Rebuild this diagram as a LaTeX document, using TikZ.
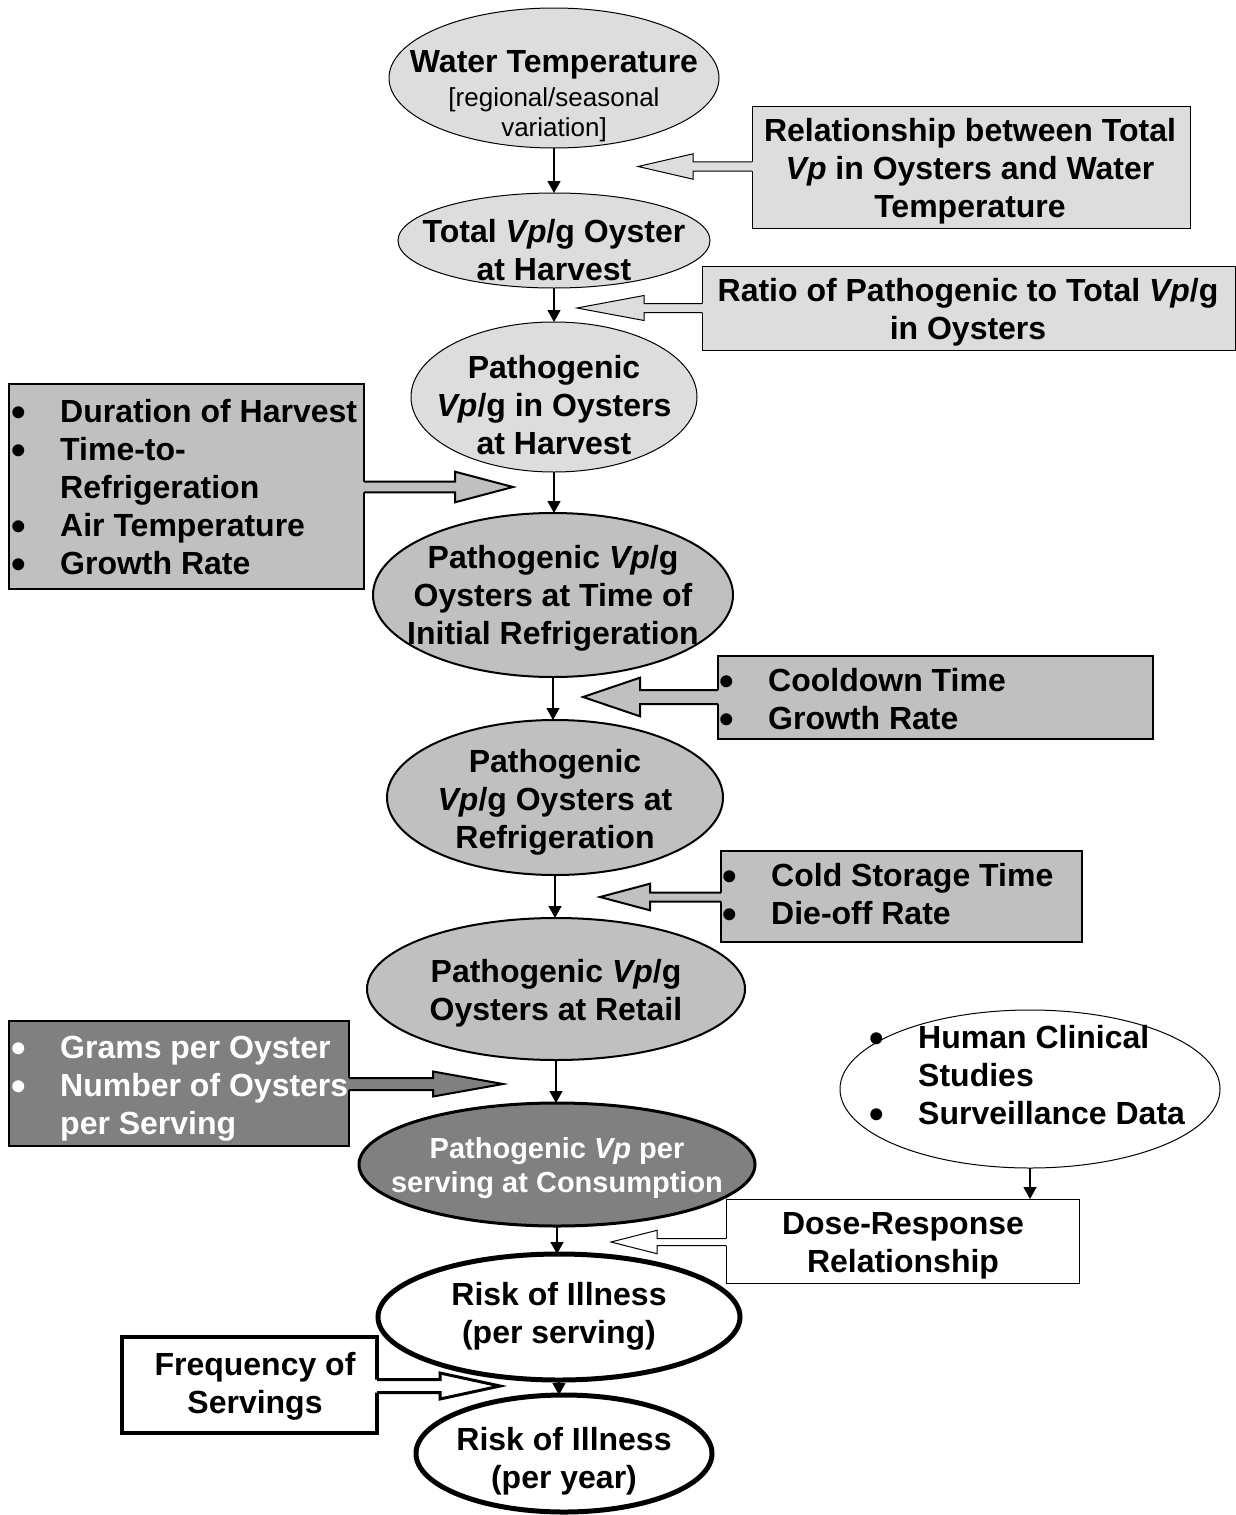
\documentclass[tikz,border=0pt]{standalone}
\usepackage{fontspec}
\usepackage{graphicx}
\setmainfont{Liberation Sans}
\usetikzlibrary{shapes.geometric,arrows.meta,calc}
\definecolor{lightg}{RGB}{221,221,221}
\definecolor{midg}{RGB}{192,192,192}
\definecolor{darkg}{RGB}{128,128,128}
\newcommand\bulit{\makebox[49pt][l]{\raisebox{-3.5pt}{\scalebox{1.3}{\textbullet}}}}
% #1 style, #2 base on box side, #3 tip, #4 head length (signed), #5 shaft half width, #6 head half width
\newcommand\blockarrow[6]{%
  \path[#1,draw=none] let \p1=($(#2)!-3pt!(#3)$), \p2=(#3) in
    (\x1,\y2+#5) -- (\x2+#4,\y2+#5) -- (\x2+#4,\y2+#6) -- (\x2,\y2)
    -- (\x2+#4,\y2-#6) -- (\x2+#4,\y2-#5) -- (\x1,\y2-#5) -- cycle;
  \path[#1,fill=none] let \p1=(#2), \p2=(#3) in
    (\x1,\y2+#5) -- (\x2+#4,\y2+#5) -- (\x2+#4,\y2+#6) -- (\x2,\y2)
    -- (\x2+#4,\y2-#6) -- (\x2+#4,\y2-#5) -- (\x1,\y2-#5);
}
\begin{document}
\begin{tikzpicture}[x=1pt,y=-1pt,
  txt/.style={font=\fontsize{32}{38}\selectfont\bfseries, align=center, inner sep=0pt},
  ltxt/.style={font=\fontsize{32}{38}\selectfont\bfseries, align=left, inner sep=0pt, anchor=west},
  ell/.style={ellipse, inner sep=0pt, outer sep=0pt, draw=black},
  boxr/.style={rectangle, inner sep=0pt, outer sep=0pt, draw=black},
  flow/.style={-{Triangle[width=13pt,length=12pt]}, line width=1.3pt}]
\useasboundingbox[fill=white] (0,0) rectangle (1236,1515);

% side boxes
\node[boxr, fill=lightg, line width=1pt, minimum width=438pt, minimum height=122pt] (A) at (971,167) {};
\node[boxr, fill=lightg, line width=1pt, minimum width=533pt, minimum height=84pt] (B) at (968.5,308) {};
\node[boxr, fill=midg, line width=2pt, minimum width=355pt, minimum height=205pt] (C) at (186.5,486.5) {};
\node[boxr, fill=midg, line width=2pt, minimum width=435pt, minimum height=83pt] (D) at (935.5,697.5) {};
\node[boxr, fill=midg, line width=2pt, minimum width=361pt, minimum height=91pt] (E) at (901.5,896.5) {};
\node[boxr, fill=darkg, line width=2pt, minimum width=340pt, minimum height=125pt] (F) at (179,1083.5) {};
\node[boxr, fill=white, line width=1pt, minimum width=353pt, minimum height=84pt] (H) at (902.5,1241) {};
\node[boxr, fill=white, line width=4pt, minimum width=255pt, minimum height=96pt] (I) at (249.5,1385) {};

% block arrows
\coordinate (tipA) at (638,166.5);
\coordinate (tipB) at (577,308);
\coordinate (tipC) at (513,487);
\coordinate (tipD) at (583,697);
\coordinate (tipE) at (600,897);
\coordinate (tipF) at (503,1084);
\coordinate (tipH) at (611,1242);
\coordinate (tipI) at (500,1386);
\blockarrow{fill=lightg, draw=black, line width=1pt}{A.west}{tipA}{55pt}{4.7pt}{12.7pt}
\blockarrow{fill=lightg, draw=black, line width=1pt}{B.west}{tipB}{67pt}{4.5pt}{12.5pt}
\blockarrow{fill=midg, draw=black, line width=2pt}{C.east}{tipC}{-58pt}{5.3pt}{15.3pt}
\blockarrow{fill=midg, draw=black, line width=2pt}{D.west}{tipD}{57pt}{7pt}{19.3pt}
\blockarrow{fill=midg, draw=black, line width=2pt}{E.west}{tipE}{50pt}{4.5pt}{13.3pt}
\blockarrow{fill=darkg, draw=black, line width=2pt}{F.east}{tipF}{-70pt}{6pt}{12.5pt}
\blockarrow{fill=white, draw=black, line width=1pt}{H.west}{tipH}{46pt}{3.5pt}{11.7pt}
\blockarrow{fill=white, draw=black, line width=3pt}{I.east}{tipI}{-60pt}{6.5pt}{13pt}

% main chain ellipses
\node[ell, fill=lightg, line width=1pt, minimum width=330pt, minimum height=140pt] (e1) at (554,78) {};
\node[ell, fill=lightg, line width=1pt, minimum width=312pt, minimum height=95pt] (e2) at (554,240.5) {};
\node[ell, fill=lightg, line width=1pt, minimum width=286pt, minimum height=150pt] (e3) at (554,397) {};
\node[ell, fill=midg, line width=2pt, minimum width=360pt, minimum height=164pt] (e4) at (553,595) {};
\node[ell, fill=midg, line width=2pt, minimum width=336pt, minimum height=155pt] (e5) at (555,797.5) {};
\node[ell, fill=midg, line width=2pt, minimum width=378pt, minimum height=142pt] (e6) at (556,989) {};
\node[ell, fill=darkg, line width=3pt, minimum width=396pt, minimum height=123pt] (e7) at (557,1164.5) {};
\node[ell, fill=white, line width=5pt, minimum width=362pt, minimum height=126pt] (e8) at (559,1317) {};
\node[ell, fill=white, line width=5pt, minimum width=296pt, minimum height=117pt] (e9) at (564,1453.5) {};
\node[ell, fill=white, line width=1pt, minimum width=380pt, minimum height=158pt] (G) at (1030,1089) {};

% texts in ellipses
\node[txt] (t1) at (554,65) {Water Temperature};
\node[txt, font=\fontsize{26}{30}\selectfont] (t1b) at (554,114.5) {[regional/seasonal\\variation]};
\node[txt] (t2) at (554,250) {Total \textit{Vp}/g Oyster\\at Harvest};
\node[txt] (t3) at (554,405) {Pathogenic\\\textit{Vp}/g in Oysters\\at Harvest};
\node[txt] (t4) at (553,598) {Pathogenic \textit{Vp}/g\\Oysters at Time of\\Initial Refrigeration};
\node[txt] (t5) at (555,802) {Pathogenic\\\textit{Vp}/g Oysters at\\Refrigeration};
\node[txt] (t6) at (556,993) {Pathogenic \textit{Vp}/g\\Oysters at Retail};
\node[txt, text=white, font=\fontsize{29}{34}\selectfont\bfseries] (t7) at (557,1168) {Pathogenic \textit{Vp} per\\serving at Consumption};
\node[txt] (t8) at (559,1316) {Risk of Illness\\(per serving)};
\node[txt] (t9) at (564,1461) {Risk of Illness\\(per year)};
\node[ltxt] (tG) at (869,1077) {\bulit Human Clinical\\\hspace*{49pt}Studies\\\bulit Surveillance Data};

% texts in boxes
\node[txt] (tA) at (970,171) {Relationship between Total\\\textit{Vp} in Oysters and Water\\Temperature};
\node[txt] (tB) at (968,312) {Ratio of Pathogenic to Total \textit{Vp}/g\\in Oysters};
\node[ltxt] (tC) at (11,489) {\bulit Duration of Harvest\\\bulit Time-to-\\\hspace*{49pt}Refrigeration\\\bulit Air Temperature\\\bulit Growth Rate};
\node[ltxt] (tD) at (719,701) {\bulit Cooldown Time\\\bulit Growth Rate};
\node[ltxt] (tE) at (722,896) {\bulit Cold Storage Time\\\bulit Die-off Rate};
\node[ltxt, text=white] (tF) at (11,1089) {\bulit Grams per Oyster\\\bulit Number of Oysters\\\hspace*{49pt}per Serving};
\node[txt] (tH) at (903,1246) {Dose-Response\\Relationship};
\node[txt] (tI) at (255,1386) {Frequency of\\Servings};

% flow arrows
\draw[flow] (e1.south) -- (e1.south |- e2.north);
\draw[flow] (e2.south) -- (e2.south |- e3.north);
\draw[flow] (e3.south) -- (e3.south |- e4.north);
\draw[flow] (e4.south) -- (e4.south |- e5.north);
\draw[flow] (e5.south) -- (e5.south |- e6.north);
\draw[flow] (e6.south) -- (e6.south |- e7.north);
\draw[flow] (e7.south) -- (e7.south |- e8.north);
\draw[flow] (e8.south) -- (e8.south |- e9.north);
\draw[flow] (G.south) -- (G.south |- H.north);
\end{tikzpicture}
\end{document}
